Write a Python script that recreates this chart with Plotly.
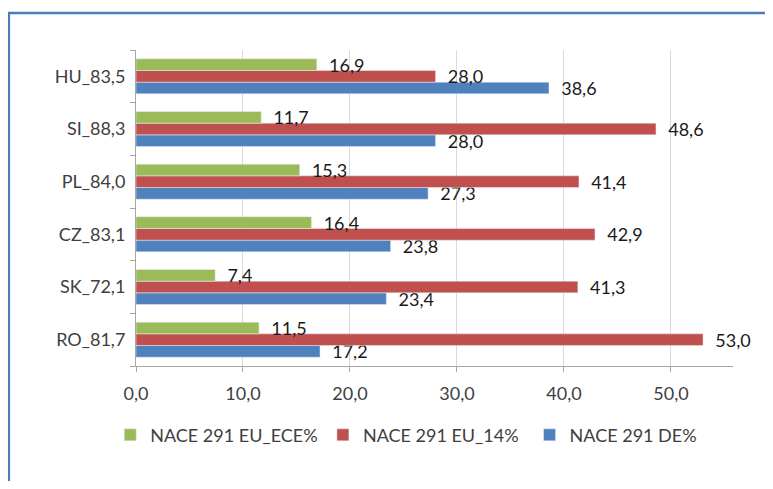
import plotly.graph_objects as go

# Kategorien von unten nach oben
laender = ['RO_81,7', 'SK_72,1', 'CZ_83,1', 'PL_84,0', 'SI_88,3', 'HU_83,5']

eu_ece = [11.5, 7.4, 16.4, 15.3, 11.7, 16.9]
eu_14 = [53.0, 41.3, 42.9, 41.4, 48.6, 28.0]
de = [17.2, 23.4, 23.8, 27.3, 28.0, 38.6]

x_ticks = [0, 10, 20, 30, 40, 50]
x_ticktext = ['0,0', '10,0', '20,0', '30,0', '40,0', '50,0']

FARBEN = {
    'ece': '#9bbb59',
    'eu14': '#c0504d',
    'de': '#4f81bd',
}
SCHRIFT = 'Lato, Open Sans, sans-serif'


def fmt(v):
    # Abstand zum Balkenende wie im Original
    return '\u00a0\u00a0' + f'{v:.1f}'.replace('.', ',')


fig = go.Figure()

# Reihenfolge: unterster Balken zuerst, jede Reihe mit eigener Legende
for name, werte, farbe, leg in [
    ('NACE 291 DE%', de, FARBEN['de'], 'legend3'),
    ('NACE 291 EU_14%', eu_14, FARBEN['eu14'], 'legend2'),
    ('NACE 291 EU_ECE%', eu_ece, FARBEN['ece'], 'legend'),
]:
    fig.add_trace(go.Bar(
        name=name,
        y=laender,
        x=werte,
        orientation='h',
        marker=dict(color=farbe),
        text=[fmt(v) for v in werte],
        textposition='outside',
        constraintext='none',
        textfont=dict(size=18, color='#1a1a1a', family=SCHRIFT),
        cliponaxis=False,
        legend=leg,
        showlegend=True,
    ))

legende = dict(
    orientation='h',
    xref='container', yref='container',
    xanchor='left', yanchor='middle',
    y=0.097,
    font=dict(size=18, color='#404040', family=SCHRIFT),
    bgcolor='rgba(0,0,0,0)',
)

# Seite hat 8px Rand -> Figur etwas kleiner
fig.update_layout(
    width=757,
    height=473,
    showlegend=True,
    barmode='group',
    bargap=0.335,
    bargroupgap=0,
    plot_bgcolor='white',
    paper_bgcolor='white',
    font=dict(family=SCHRIFT, size=18, color='#404040'),
    margin=dict(l=128, r=32, t=42, b=115, autoexpand=False),
    legend=dict(legende, x=0.135),
    legend2=dict(legende, x=0.416),
    legend3=dict(legende, x=0.689),
    shapes=[dict(
        type='rect', xref='paper', yref='paper',
        x0=-0.213, x1=1.3, y0=-0.6, y1=1.117,
        line=dict(color='#4a7ebb', width=2.5),
        fillcolor='rgba(0,0,0,0)',
        layer='below',
    )],
)

fig.update_xaxes(
    range=[0, 55.8],
    tickvals=x_ticks,
    ticktext=x_ticktext,
    showgrid=True,
    gridcolor='#d9d9d9',
    zeroline=False,
    showline=True,
    linecolor='#a6a6a6',
    ticks='outside',
    ticklen=5,
    tickcolor='#a6a6a6',
    tickfont=dict(size=18, color='#404040'),
    ticklabelstandoff=6,
    automargin=False,
)

fig.update_yaxes(
    showline=True,
    linecolor='#a6a6a6',
    ticks='outside',
    tickson='boundaries',
    ticklen=5,
    tickcolor='#a6a6a6',
    showgrid=False,
    tickfont=dict(size=18, color='#404040'),
    ticklabelstandoff=6,
    automargin=False,
)

fig.write_html("out.html")
